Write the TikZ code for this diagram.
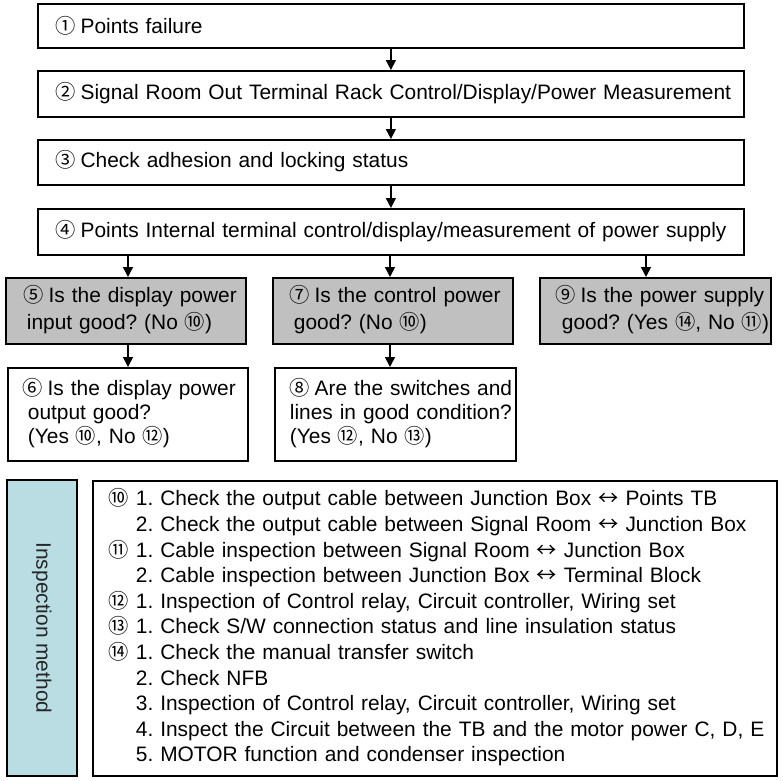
\documentclass[tikz,border=0pt]{standalone}
\usepackage{fontspec}
\setmainfont{Liberation Sans}
\newfontfamily\cjk[Scale=0.97]{Noto Sans CJK KR}
\usetikzlibrary{arrows.meta}
\frenchspacing
\newcommand{\cn}[1]{{\cjk\smash{#1}}}
\newcommand{\cnl}[1]{{\cjk\smash{#1}}\kern-2.5pt\relax}
\newcommand{\lead}[1]{\makebox[27pt][l]{\cn{#1}}}
\definecolor{boxgray}{HTML}{C0C0C0}
\definecolor{boxblue}{HTML}{B9DDE3}
\tikzset{
  flowbox/.style={draw=black, line width=1.8pt, anchor=north west, align=left, inner ysep=0pt},
  conn/.style={line width=1.5pt, -{Triangle[length=10pt,width=10pt]}},
  graybox/.style={flowbox, fill=boxgray}
}
\begin{document}
\begin{tikzpicture}[x=1pt,y=-1pt, font=\fontsize{20.9}{24}\selectfont\frenchspacing]
\useasboundingbox (0,0) rectangle (783,780);
% top row
\node[flowbox, minimum width=706pt, minimum height=44pt, text width=670pt, inner xsep=17pt] (b1) at (37,3) {\cnl{①} Points failure};
\node[flowbox, minimum width=706pt, minimum height=46pt, text width=670pt, inner xsep=17pt] (b2) at (37,70) {\mbox{\cnl{②} Signal Room Out Terminal Rack Control/Display/Power Measurement}};
\node[flowbox, minimum width=706pt, minimum height=45pt, text width=670pt, inner xsep=17pt] (b3) at (37,139) {\cnl{③} Check adhesion and locking status};
\node[flowbox, minimum width=706pt, minimum height=46pt, text width=670pt, inner xsep=17pt] (b4) at (37,208) {\mbox{\cnl{④} Points Internal terminal control/display/measurement of power supply}};
% middle
\node[graybox, minimum width=240pt, minimum height=66pt, text width=204pt, inner xsep=18pt, font=\fontsize{20.9}{27}\selectfont] (b5) at (5,277) {\mbox{\cnl{⑤} Is the display power}\\\mbox{\hspace*{3pt}input good? (No \cn{⑩})}};
\node[graybox, minimum width=240pt, minimum height=66pt, text width=206pt, inner xsep=17pt, font=\fontsize{20.9}{27}\selectfont] (b7) at (272,277) {\mbox{\cnl{⑦} Is the control power}\\\mbox{\hspace*{4pt}good? (No \cn{⑩})}};
\node[graybox, minimum width=231pt, minimum height=66pt, text width=199pt, inner xsep=16pt, font=\fontsize{20.9}{27}\selectfont] (b9) at (539,277) {\mbox{\cnl{⑨} Is the power supply}\\\mbox{\hspace*{6pt}good? (Yes \cn{⑭}, No \cn{⑪})}};
\node[flowbox, minimum width=240pt, minimum height=93pt, text width=210pt, inner xsep=15pt] (b6) at (7,367) {\mbox{\cnl{⑥} Is the display power}\\\mbox{\hspace*{5pt}output good?}\\\mbox{\hspace*{5pt}(Yes \cn{⑩}, No \cn{⑫})}};
\node[flowbox, minimum width=241pt, minimum height=93pt, text width=211pt, inner xsep=15pt] (b8) at (274,367) {\mbox{\cnl{⑧} Are the switches and}\\\mbox{lines in good condition?}\\\mbox{(Yes \cn{⑫}, No \cn{⑬})}};
% bottom
\node[flowbox, fill=boxblue, minimum width=70pt, minimum height=296pt, inner xsep=0pt] (blue) at (6,479) {};
\node[rotate=-90, text=black!85] (lbl) at (blue.center) {Inspection method};
\node[flowbox, minimum width=684pt, minimum height=295pt, text width=652pt, inner xsep=15pt, font=\fontsize{20.9}{25.6}\selectfont] (big) at (92,480) {%
\mbox{\lead{⑩}1. Check the output cable between Junction Box \cn{↔} Points TB}\\
\mbox{\lead{}2. Check the output cable between Signal Room \cn{↔} Junction Box}\\
\mbox{\lead{⑪}1. Cable inspection between Signal Room \cn{↔} Junction Box}\\
\mbox{\lead{}2. Cable inspection between Junction Box \cn{↔} Terminal Block}\\
\mbox{\lead{⑫}1. Inspection of Control relay, Circuit controller, Wiring set}\\
\mbox{\lead{⑬}1. Check S/W connection status and line insulation status}\\
\mbox{\lead{⑭}1. Check the manual transfer switch}\\
\mbox{\lead{}2. Check NFB}\\
\mbox{\lead{}3. Inspection of Control relay, Circuit controller, Wiring set}\\
\mbox{\lead{}4. Inspect the Circuit between the TB and the motor power C, D, E}\\
\mbox{\lead{}5. MOTOR function and condenser inspection}};
% connectors
\coordinate (x5) at (128,0);
\coordinate (x7) at (390,0);
\coordinate (x9) at (646,0);
\draw[conn] (b1) -- (b2);
\draw[conn] (b2) -- (b3);
\draw[conn] (b3) -- (b4);
\draw[conn] (x5 |- b4.south) -- (x5 |- b5.north);
\draw[conn] (x7 |- b4.south) -- (x7 |- b7.north);
\draw[conn] (x9 |- b4.south) -- (x9 |- b9.north);
\draw[conn] (x5 |- b5.south) -- (x5 |- b6.north);
\draw[conn] (x7 |- b7.south) -- (x7 |- b8.north);
\end{tikzpicture}
\end{document}
